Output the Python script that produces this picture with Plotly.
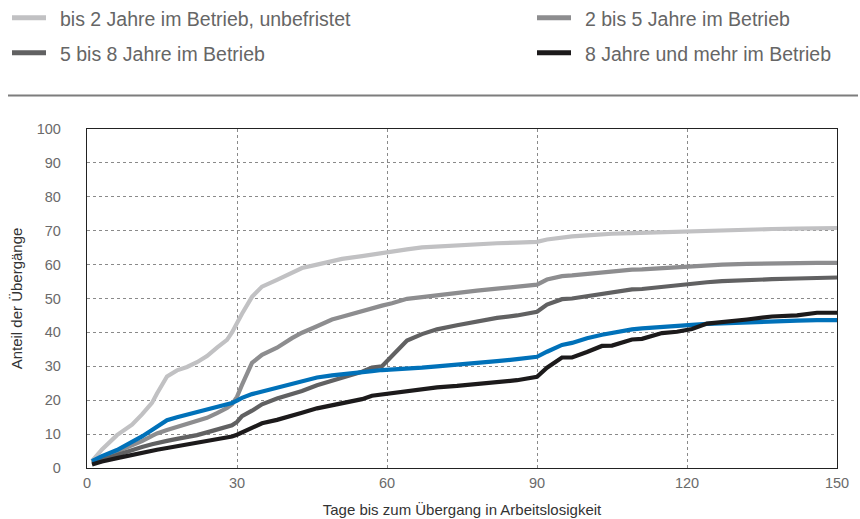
import plotly.graph_objects as go

# ---- data ----
days = [1, 3, 6, 9, 11, 13, 14, 16, 18, 20, 22, 24, 26, 28, 29, 30, 31, 33, 35, 38,
        41, 43, 46, 49, 51, 55, 57, 59, 61, 63, 64, 67, 70, 74, 78, 82, 86, 90, 92, 95,
        97, 100, 103, 105, 109, 111, 115, 118, 121, 124, 127, 132, 137, 142, 146, 150]

bis2_unbefristet = [2, 5.5, 9.7, 12.8, 15.8, 19.2, 22, 27, 28.8, 29.8, 31.2, 33, 35.5, 37.8, 40, 43,
                    45.5, 50.5, 53.5, 55.5, 57.7, 59, 60, 61, 61.7, 62.5, 63, 63.4, 63.8, 64.3, 64.5,
                    65.1, 65.4, 65.7, 66, 66.3, 66.5, 66.7, 67.4, 68.1, 68.3, 68.6, 69, 69.1, 69.3,
                    69.4, 69.6, 69.7, 69.9, 70.1, 70.2, 70.4, 70.5, 70.6, 70.7, 70.8]

j2bis5 = [1.8, 3, 4.6, 6.5, 7.9, 9.5, 10.2, 11.2, 12.1, 12.7, 13.6, 14.8, 16.2, 17.7, 18.8, 21,
          24.5, 31, 33.4, 35.5, 38.3, 39.9, 41.8, 43.8, 44.6, 46.4, 47.3, 47.9, 48.6, 49.6, 49.9,
          50.4, 51, 51.7, 52.3, 52.9, 53.4, 54.1, 55.6, 56.6, 56.8, 57.3, 57.8, 58.1, 58.5, 58.6,
          59, 59.3, 59.6, 59.8, 60, 60.2, 60.4, 60.4, 60.5, 60.5]

j5bis8 = [1.5, 2.5, 3.8, 5.2, 6.2, 7, 7.4, 8, 8.6, 9.1, 9.7, 10.5, 11.3, 12, 12.6, 13.6, 15.3,
          16.9, 18.8, 20.5, 21.8, 22.7, 24.4, 25.9, 26.6, 28.4, 29.6, 30, 33.2, 36.3, 37.6, 39.5,
          40.9, 42.1, 43.3, 44.3, 45, 46.1, 48.2, 49.8, 50, 50.7, 51.4, 51.8, 52.7, 52.8, 53.5,
          53.8, 54.3, 54.8, 55.1, 55.5, 55.7, 55.9, 56.1, 56.2]

bis2_befristet = [2, 3.5, 5.3, 7.5, 9.3, 11.2, 12.2, 14.1, 15, 15.8, 16.6, 17.3, 17.9, 18.7, 19.2,
                  19.9, 20.7, 21.8, 22.6, 23.8, 25, 25.6, 26.7, 27.3, 27.7, 28.4, 28.6, 28.9, 29,
                  29.3, 29.4, 29.6, 30, 30.4, 31, 31.5, 32.1, 32.8, 34.3, 36.3, 36.9, 38.3, 39.3,
                  39.9, 40.9, 41.2, 41.7, 41.9, 42.2, 42.5, 42.7, 43.1, 43.3, 43.5, 43.6, 43.6]

j8plus = [1, 1.9, 2.9, 3.9, 4.5, 5.1, 5.4, 5.9, 6.4, 6.8, 7.3, 7.8, 8.3, 8.9, 9.3, 9.8, 10.5,
          12, 13.2, 14.2, 15.6, 16.3, 17.6, 18.5, 19.1, 20.3, 21.3, 21.7, 22, 22.5, 22.7, 23.2,
          23.8, 24.2, 24.8, 25.4, 25.9, 26.9, 29.6, 32.6, 32.6, 34.2, 36, 36.1, 37.9, 38.1, 39.8,
          40.2, 41, 42.6, 43, 43.8, 44.7, 45, 45.8, 45.8]

series_names = ["bis 2 Jahre im Betrieb, unbefristet", "2 bis 5 Jahre im Betrieb",
                "5 bis 8 Jahre im Betrieb", "8 Jahre und mehr im Betrieb",
                "bis 2 Jahre im Betrieb, befristet"]
x_ticks = [0, 30, 60, 90, 120, 150]
y_ticks = [0, 10, 20, 30, 40, 50, 60, 70, 80, 90, 100]

# ---- styling ----
colors = ["#c1c1c3", "#8d8d8f", "#616162", "#1c1a1b", "#0071b9"]
series_vals = [bis2_unbefristet, j2bis5, j5bis8, j8plus, bis2_befristet]

# plot-area pixel geometry
L, R, T, B = 87, 837, 128.5, 468.5
W, H = 860, 519
FONT = "Liberation Sans, Arial, sans-serif"


def px_x(p):
    return (p - L) / (R - L)


def px_y(p):
    return (B - p) / (B - T)


fig = go.Figure()
order = [0, 1, 2, 4, 3]
for i in order:
    fig.add_trace(go.Scatter(x=days, y=series_vals[i], mode="lines", name=series_names[i],
                             line=dict(color=colors[i], width=4.2), showlegend=False,
                             hoverinfo="x+y+name"))

shapes = []
annotations = []
legend_items = [(0, 12, 17), (1, 537, 17), (2, 12, 52), (3, 537, 52)]
for idx, lx, ly in legend_items:
    shapes.append(dict(type="line", xref="paper", yref="paper",
                       x0=px_x(lx), x1=px_x(lx + 34), y0=px_y(ly), y1=px_y(ly),
                       line=dict(color=colors[idx], width=5)))
    annotations.append(dict(xref="paper", yref="paper", x=px_x(lx + 46), y=px_y(ly + 1),
                            xanchor="left", yanchor="middle", showarrow=False,
                            text=series_names[idx],
                            font=dict(size=19.5, color="#666666", family=FONT)))
shapes.append(dict(type="line", xref="paper", yref="paper",
                   x0=px_x(8), x1=px_x(858), y0=px_y(95), y1=px_y(95),
                   line=dict(color="#7d7d7d", width=2)))

axis_font = dict(size=14.5, color="#6a6a6a", family=FONT)
title_font = dict(size=15, color="#333333", family=FONT)

fig.update_layout(
    width=W, height=H,
    margin=dict(l=L, r=W - R, t=T, b=H - B, pad=0),
    paper_bgcolor="white", plot_bgcolor="white",
    shapes=shapes, annotations=annotations,
    showlegend=False,
    xaxis=dict(range=[0, 150], tickvals=x_ticks, ticktext=[str(v) for v in x_ticks],
               showgrid=True, gridcolor="#8a8a8a", griddash="dot", gridwidth=1,
               zeroline=False, showline=True, linecolor="#222222", linewidth=1.3, mirror=True,
               ticks="", ticklabelstandoff=1, tickfont=axis_font,
               title=dict(text="Tage bis zum Übergang in Arbeitslosigkeit", font=title_font, standoff=14),
               automargin=False),
    yaxis=dict(range=[0, 100], tickvals=y_ticks, ticktext=[str(v) for v in y_ticks],
               showgrid=True, gridcolor="#8a8a8a", griddash="dot", gridwidth=1,
               zeroline=False, showline=True, linecolor="#222222", linewidth=1.3, mirror=True,
               ticks="", ticklabelstandoff=22, tickfont=axis_font,
               title=dict(text="Anteil der Übergänge", font=title_font, standoff=10),
               automargin=False),
)

fig.write_html("out.html", config={"displayModeBar": False})

# remove default browser body margin so the figure fills the window exactly
with open("out.html", "r", encoding="utf-8") as f:
    html = f.read()
html = html.replace("<head>", "<head><style>html,body{margin:0;padding:0;overflow:hidden;}</style>", 1)
with open("out.html", "w", encoding="utf-8") as f:
    f.write(html)
